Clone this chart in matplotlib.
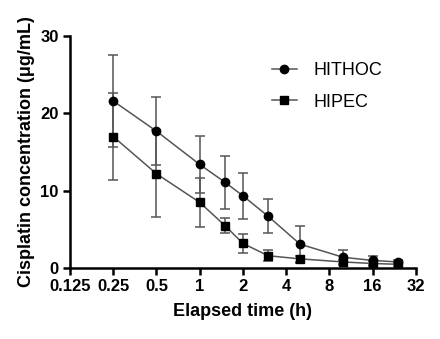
import matplotlib
matplotlib.use('Agg')
import matplotlib.pyplot as plt
from matplotlib.lines import Line2D

# elapsed time (h)
times = [0.25, 0.5, 1, 1.5, 2, 3, 5, 10, 16, 24]

hithoc = [21.6, 17.7, 13.4, 11.1, 9.35, 6.7, 3.1, 1.4, 1.0, 0.8]
hithoc_sd = [5.9, 4.4, 3.7, 3.4, 3.0, 2.2, 2.4, 1.0, 0.6, 0.3]

hipec = [17.0, 12.2, 8.5, 5.5, 3.2, 1.6, 1.2, 0.8, 0.6, 0.5]
hipec_sd = [5.6, 5.6, 3.2, 1.0, 1.2, 0.7, 0.4, 0.3, 0.3, 0.2]

xticks = [0.125, 0.25, 0.5, 1, 2, 4, 8, 16, 32]
xticklabels = ['0.125', '0.25', '0.5', '1', '2', '4', '8', '16', '32']

plt.rcParams['font.family'] = ['Liberation Sans', 'DejaVu Sans']

fig = plt.figure(figsize=(4.4, 3.39), dpi=100)
ax = fig.add_axes([0.159, 0.209, 0.786, 0.685])

ax.errorbar(times, hithoc, yerr=hithoc_sd, fmt='-o', color='#555555',
            mfc='black', mec='black', ms=6, lw=1.1, elinewidth=1.1,
            ecolor='#555555', capsize=3.5, capthick=1.1)
ax.errorbar(times, hipec, yerr=hipec_sd, fmt='-s', color='#555555',
            mfc='black', mec='black', ms=6, lw=1.1, elinewidth=1.1,
            ecolor='#555555', capsize=3.5, capthick=1.1)

ax.set_xscale('log', base=2)
ax.set_xlim(0.125, 32)
ax.set_ylim(0, 30)
ax.set_xticks(xticks)
ax.set_xticklabels(xticklabels)
ax.minorticks_off()
ax.set_yticks([0, 10, 20, 30])

for s in ['top', 'right']:
    ax.spines[s].set_visible(False)
for s in ['left', 'bottom']:
    ax.spines[s].set_linewidth(1.8)

ax.tick_params(axis='both', width=1.8, length=5, labelsize=12, pad=3)
for lab in ax.get_xticklabels() + ax.get_yticklabels():
    lab.set_fontweight('bold')

ax.set_xlabel('Elapsed time (h)', fontsize=13, fontweight='bold', labelpad=6)
ax.set_ylabel('Cisplatin concentration (μg/mL)', fontsize=13, fontweight='bold', labelpad=4)

handles = [
    Line2D([], [], color='#555555', lw=1.1, marker='o', ms=6, mfc='black', mec='black'),
    Line2D([], [], color='#555555', lw=1.1, marker='s', ms=6, mfc='black', mec='black'),
]
ax.legend(handles, ['HITHOC', 'HIPEC'], loc='upper left',
          bbox_to_anchor=(0.536, 0.957), frameon=False,
          fontsize=13, handlelength=1.4, labelspacing=0.8, handletextpad=0.9)

fig.savefig('out.png', dpi=100)
